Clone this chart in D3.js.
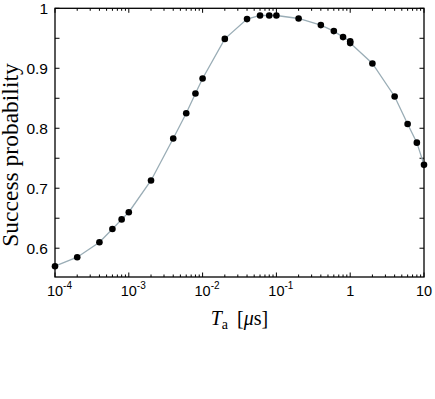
<!DOCTYPE html>
<html>
<head>
<script src="https://cdn.jsdelivr.net/npm/d3@7"></script>
<style>
  body { margin: 0; background: #fff; }
</style>
</head>
<body>
<svg width="435" height="399" id="mainsvg"></svg>
<script>
const tA = [1e-4, 2e-4, 4e-4, 6e-4, 8e-4, 1e-3, 2e-3, 4e-3, 6e-3, 8e-3, 1e-2, 2e-2, 4e-2, 6e-2, 8e-2, 0.1, 0.2, 0.4, 0.6, 0.8, 1, 1, 2, 4, 6, 8, 10];
const prob = [0.570, 0.585, 0.610, 0.632, 0.648, 0.660, 0.713, 0.783, 0.825, 0.858, 0.883, 0.949, 0.982, 0.988, 0.988, 0.988, 0.983, 0.972, 0.962, 0.952, 0.945, 0.942, 0.908, 0.853, 0.807, 0.776, 0.739];
const yTicks = [0.6, 0.65, 0.7, 0.75, 0.8, 0.85, 0.9, 0.95, 1];
const yLabels = { 0.6: '0.6', 0.7: '0.7', 0.8: '0.8', 0.9: '0.9', 1: '1' };
const xMajor = [1e-4, 1e-3, 1e-2, 1e-1, 1, 10];
const xExp = ['-4', '-3', '-2', '-1', null, null];
const xPlain = ['10', '10', '10', '10', '1', '10'];

const sans = "'Liberation Sans', Arial, Helvetica, sans-serif";
const serif = "'Liberation Serif', 'Times New Roman', serif";

const svg = d3.select('svg');
const margin = { top: 8.3, right: 11, bottom: 122, left: 55 };
const width = 435, height = 399;
const innerWidth = width - margin.left - margin.right;
const innerHeight = height - margin.top - margin.bottom;
const g = svg.append('g').attr('transform', `translate(${margin.left},${margin.top})`);

const x = d3.scaleLog().domain([1e-4, 10]).range([0, innerWidth]);
const y = d3.scaleLinear().domain([0.552, 1]).range([innerHeight, 0]);

// minor x ticks
const xMinor = [];
for (let e = -4; e < 1; e++) for (let m = 2; m <= 9; m++) xMinor.push(m * Math.pow(10, e));

const tickG = g.append('g').attr('stroke', '#000').attr('stroke-width', 1);
xMinor.forEach(v => {
  tickG.append('line').attr('x1', x(v)).attr('x2', x(v)).attr('y1', innerHeight).attr('y2', innerHeight - 2.5);
  tickG.append('line').attr('x1', x(v)).attr('x2', x(v)).attr('y1', 0).attr('y2', 2.5);
});
xMajor.forEach(v => {
  tickG.append('line').attr('x1', x(v)).attr('x2', x(v)).attr('y1', innerHeight).attr('y2', innerHeight - 4.5);
  tickG.append('line').attr('x1', x(v)).attr('x2', x(v)).attr('y1', 0).attr('y2', 4.5);
});
yTicks.forEach(v => {
  tickG.append('line').attr('x1', 0).attr('x2', 4.5).attr('y1', y(v)).attr('y2', y(v));
  tickG.append('line').attr('x1', innerWidth).attr('x2', innerWidth - 4.5).attr('y1', y(v)).attr('y2', y(v));
});

// frame
g.append('rect').attr('width', innerWidth).attr('height', innerHeight)
  .attr('fill', 'none').attr('stroke', '#000').attr('stroke-width', 1.3);

// y labels
yTicks.filter(v => yLabels[v]).forEach(v => {
  g.append('text').attr('x', -7).attr('y', y(v)).attr('dy', '0.36em')
    .attr('text-anchor', 'end').attr('font-family', sans)
    .attr('font-size', 15.5).text(yLabels[v]);
});

// x labels
xMajor.forEach((v, i) => {
  const t = g.append('text').attr('x', x(v)).attr('y', innerHeight + 19.5)
    .attr('text-anchor', 'middle').attr('font-family', sans)
    .attr('font-size', 14.5).text(xPlain[i]);
  if (xExp[i]) {
    const w = t.node().getComputedTextLength();
    g.append('text').attr('x', x(v) + w / 2).attr('y', innerHeight + 12.5)
      .attr('font-family', sans)
      .attr('font-size', 10).text(xExp[i]);
  }
});

// line and points
const pts = tA.map((d, i) => [d, prob[i]]);
g.append('path').datum(pts)
  .attr('fill', 'none').attr('stroke', '#9aadb6').attr('stroke-width', 1.3)
  .attr('d', d3.line().x(d => x(d[0])).y(d => y(d[1])));
g.selectAll('circle').data(pts).join('circle')
  .attr('cx', d => x(d[0])).attr('cy', d => y(d[1])).attr('r', 3.3).attr('fill', '#000');

// axis titles
svg.append('text').attr('transform', 'translate(18,155) rotate(-90)')
  .attr('text-anchor', 'middle').attr('font-family', serif)
  .attr('font-size', 23.5).text('Success probability');

const xl = svg.append('text').attr('x', margin.left + innerWidth / 2).attr('y', 325)
  .attr('text-anchor', 'middle').attr('font-family', serif)
  .attr('font-size', 20);
xl.append('tspan').attr('font-style', 'italic').text('T');
xl.append('tspan').attr('font-size', 14).attr('dy', 4).text('a');
xl.append('tspan').attr('dy', -4).text('\u2009 [');
xl.append('tspan').attr('font-style', 'italic').text('\u03bc');
xl.append('tspan').text('s]');
</script>
</body>
</html>
